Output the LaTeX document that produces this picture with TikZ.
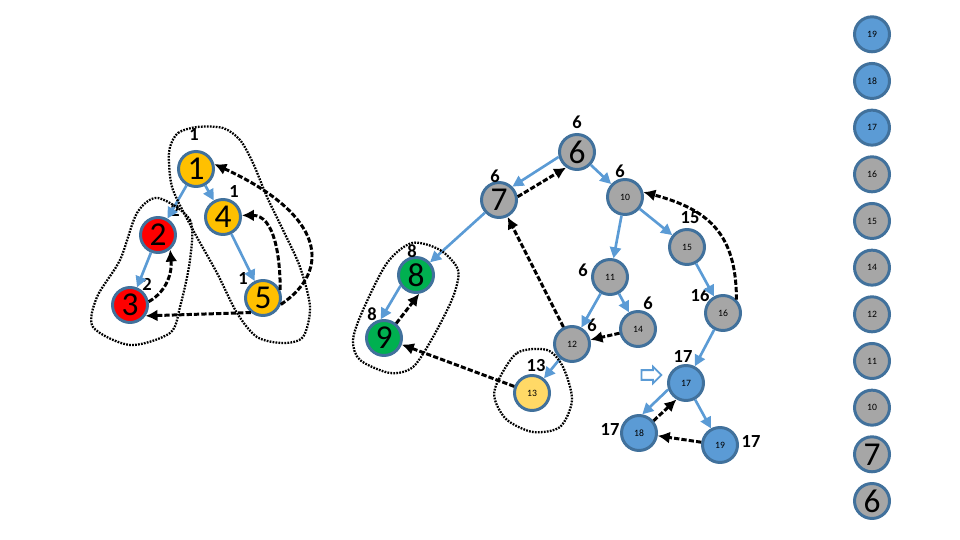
\documentclass[tikz,border=0pt]{standalone}
\usepackage{fontspec}
\setmainfont{Carlito}
\usepackage{xcolor}
\usetikzlibrary{arrows.meta, positioning, shapes.arrows}
\definecolor{rim}{RGB}{65,113,156}
\definecolor{treeblue}{RGB}{91,155,213}
\definecolor{ngray}{RGB}{166,166,166}
\definecolor{nblue}{RGB}{91,155,213}
\definecolor{norange}{RGB}{255,192,0}
\definecolor{nred}{RGB}{255,0,0}
\definecolor{ngreen}{RGB}{0,176,80}
\definecolor{nsand}{RGB}{255,217,102}

\begin{document}
\begin{tikzpicture}[x=0.02cm, y=-0.02cm,
      vtx/.style={circle, draw=rim, line width=1.7pt, minimum size=7mm, inner sep=0pt},
      big/.style={vtx, font=\fontsize{19}{19}\selectfont},
      small/.style={vtx, font=\fontsize{5.5}{6}\selectfont},
      tree/.style={-{Triangle[length=2.2mm,width=2.2mm]}, draw=treeblue, line width=1.5pt},
      back/.style={-{Latex[length=2.4mm,width=2.4mm]}, line width=1.7pt, dash pattern=on 3pt off 1.2pt},
      lbl/.style={font=\bfseries\fontsize{10.5}{11}\selectfont, inner sep=0pt},
      blob/.style={line width=1.3pt, dash pattern=on 1pt off 0.7pt}
    ]
    \useasboundingbox (0,0) rectangle (960,540);

    % left graph
    \node[big, fill=norange] (n1) at (196,169) {1};
    \node[big, fill=norange] (n4) at (223,217) {4};
    \node[big, fill=nred] (n2) at (158,235) {2};
    \node[big, fill=nred] (n3) at (130,305) {3};
    \node[big, fill=norange] (n5) at (263,298) {5};

    \node[lbl] (l1) at (194,135) {1};
    \node[lbl] (l4) at (234,192) {1};
    \node[lbl] (l2) at (175,210) {2};
    \node[lbl] (l3) at (147,284) {2};
    \node[lbl] (l5) at (243,279) {1};

    \draw[tree] (n1) -- (n2);
    \draw[tree] (n1) -- (n4);
    \draw[tree] (n2) -- (n3);
    \draw[tree] (n4) -- (n5);

    \draw[back] (n3.10) to[out=30,in=-85] (n2.-50);
    \draw[back] (n5.-20) .. controls (332,270) and (325,215) .. (n1.15);
    \draw[back] (n5.25) to[out=90,in=0] (n4.5);
    \draw[back] (n5.-130) -- (n3.-35);

    \draw[blob] plot[smooth cycle] coordinates {(158,198) (190,220) (190,260) (180,307)
      (170,333) (130,345) (93,327) (97,297) (120,260) (137,213)};
    \draw[blob] plot[smooth cycle] coordinates {(170,147) (178,133) (197,127) (223,128)
      (240,140) (253,163) (267,197) (283,230) (300,267) (310,307) (303,337) (283,343)
      (257,337) (237,313) (217,273) (193,230) (173,190) (169,163)};

    % middle graph
    \node[big, fill=ngray] (n6) at (577,152) {6};
    \node[big, fill=ngray] (n7) at (499,200) {7};
    \node[big, fill=ngreen] (n8) at (416,275) {8};
    \node[big, fill=ngreen] (n9) at (384,338) {9};
    \node[small, fill=ngray] (n10) at (625,197) {10};
    \node[small, fill=ngray] (n11) at (610,277) {11};
    \node[small, fill=ngray] (n12) at (572,344) {12};
    \node[small, fill=nsand] (n13) at (532,393) {13};
    \node[small, fill=ngray] (n14) at (638,329) {14};
    \node[small, fill=ngray] (n15) at (687,247) {15};
    \node[small, fill=ngray] (n16) at (723,313) {16};
    \node[small, fill=nblue] (n17) at (686,383) {17};
    \node[small, fill=nblue] (n18) at (639,433) {18};
    \node[small, fill=nblue] (n19) at (720,445) {19};

    \node[lbl] (l6) at (577,122) {6};
    \node[lbl] (l7) at (495,176) {6};
    \node[lbl] (l10) at (620,171) {6};
    \node[lbl] (l8) at (412,251) {8};
    \node[lbl] (l9) at (372,314) {8};
    \node[lbl] (l13) at (536,366) {13};
    \node[lbl] (l12) at (592,325) {6};
    \node[lbl] (l11) at (583,270) {6};
    \node[lbl] (l14) at (648,303) {6};
    \node[lbl] (l15) at (690,218) {15};
    \node[lbl] (l16) at (700,295) {16};
    \node[lbl] (l17) at (683,357) {17};
    \node[lbl] (l18) at (610,430) {17};
    \node[lbl] (l19) at (751,442) {17};

    \node[single arrow, draw=treeblue, line width=1pt, minimum height=4mm,
      single arrow head extend=0.7mm, inner sep=0.8mm] (hint) at (649,375) {};

    \draw[tree] (n6.195) -- (n7.45);
    \draw[tree] (n6) -- (n10);
    \draw[tree] (n7) -- (n8);
    \draw[tree] (n8.215) -- (n9.100);
    \draw[tree] (n10) -- (n11);
    \draw[tree] (n10) -- (n15);
    \draw[tree] (n11) -- (n12);
    \draw[tree] (n11) -- (n14);
    \draw[tree] (n12) -- (n13);
    \draw[tree] (n15) -- (n16);
    \draw[tree] (n16) -- (n17);
    \draw[tree] (n17.200) -- (n18.80);
    \draw[tree] (n17) -- (n19);

    \draw[back] (n7.10) -- (n6.235);
    \draw[back] (n9.50) -- (n8.-80);
    \draw[back] (n13) -- (n9);
    \draw[back] (n12) -- (n7);
    \draw[back] (n14) -- (n12);
    \draw[back] (n16.45) to[out=90,in=-15,looseness=1.2] (n10.15);
    \draw[back] (n18.40) -- (n17.-120);
    \draw[back] (n19) -- (n18);

    \draw[blob] plot[smooth cycle] coordinates {(412,243) (440,250) (458,270) (453,297)
      (433,337) (413,367) (390,373) (360,360) (353,340) (363,310) (387,263)};
    \draw[blob] plot[smooth cycle] coordinates {(497,383) (517,353) (547,350) (563,367)
      (572,400) (560,427) (533,432) (507,420) (495,400)};

    % stack
    \foreach \t/\c [count=\i from 0] in {19/nblue,18/nblue,17/nblue,16/ngray,15/ngray,
        14/ngray,12/ngray,11/ngray,10/ngray}
      \node[small, fill=\c] (s\t) at (872,34.3+46.67*\i) {\t};
    \node[big, fill=ngray] (s7) at (872,454.3) {7};
    \node[big, fill=ngray] (s6) at (872,501) {6};
  \end{tikzpicture}
\end{document}
